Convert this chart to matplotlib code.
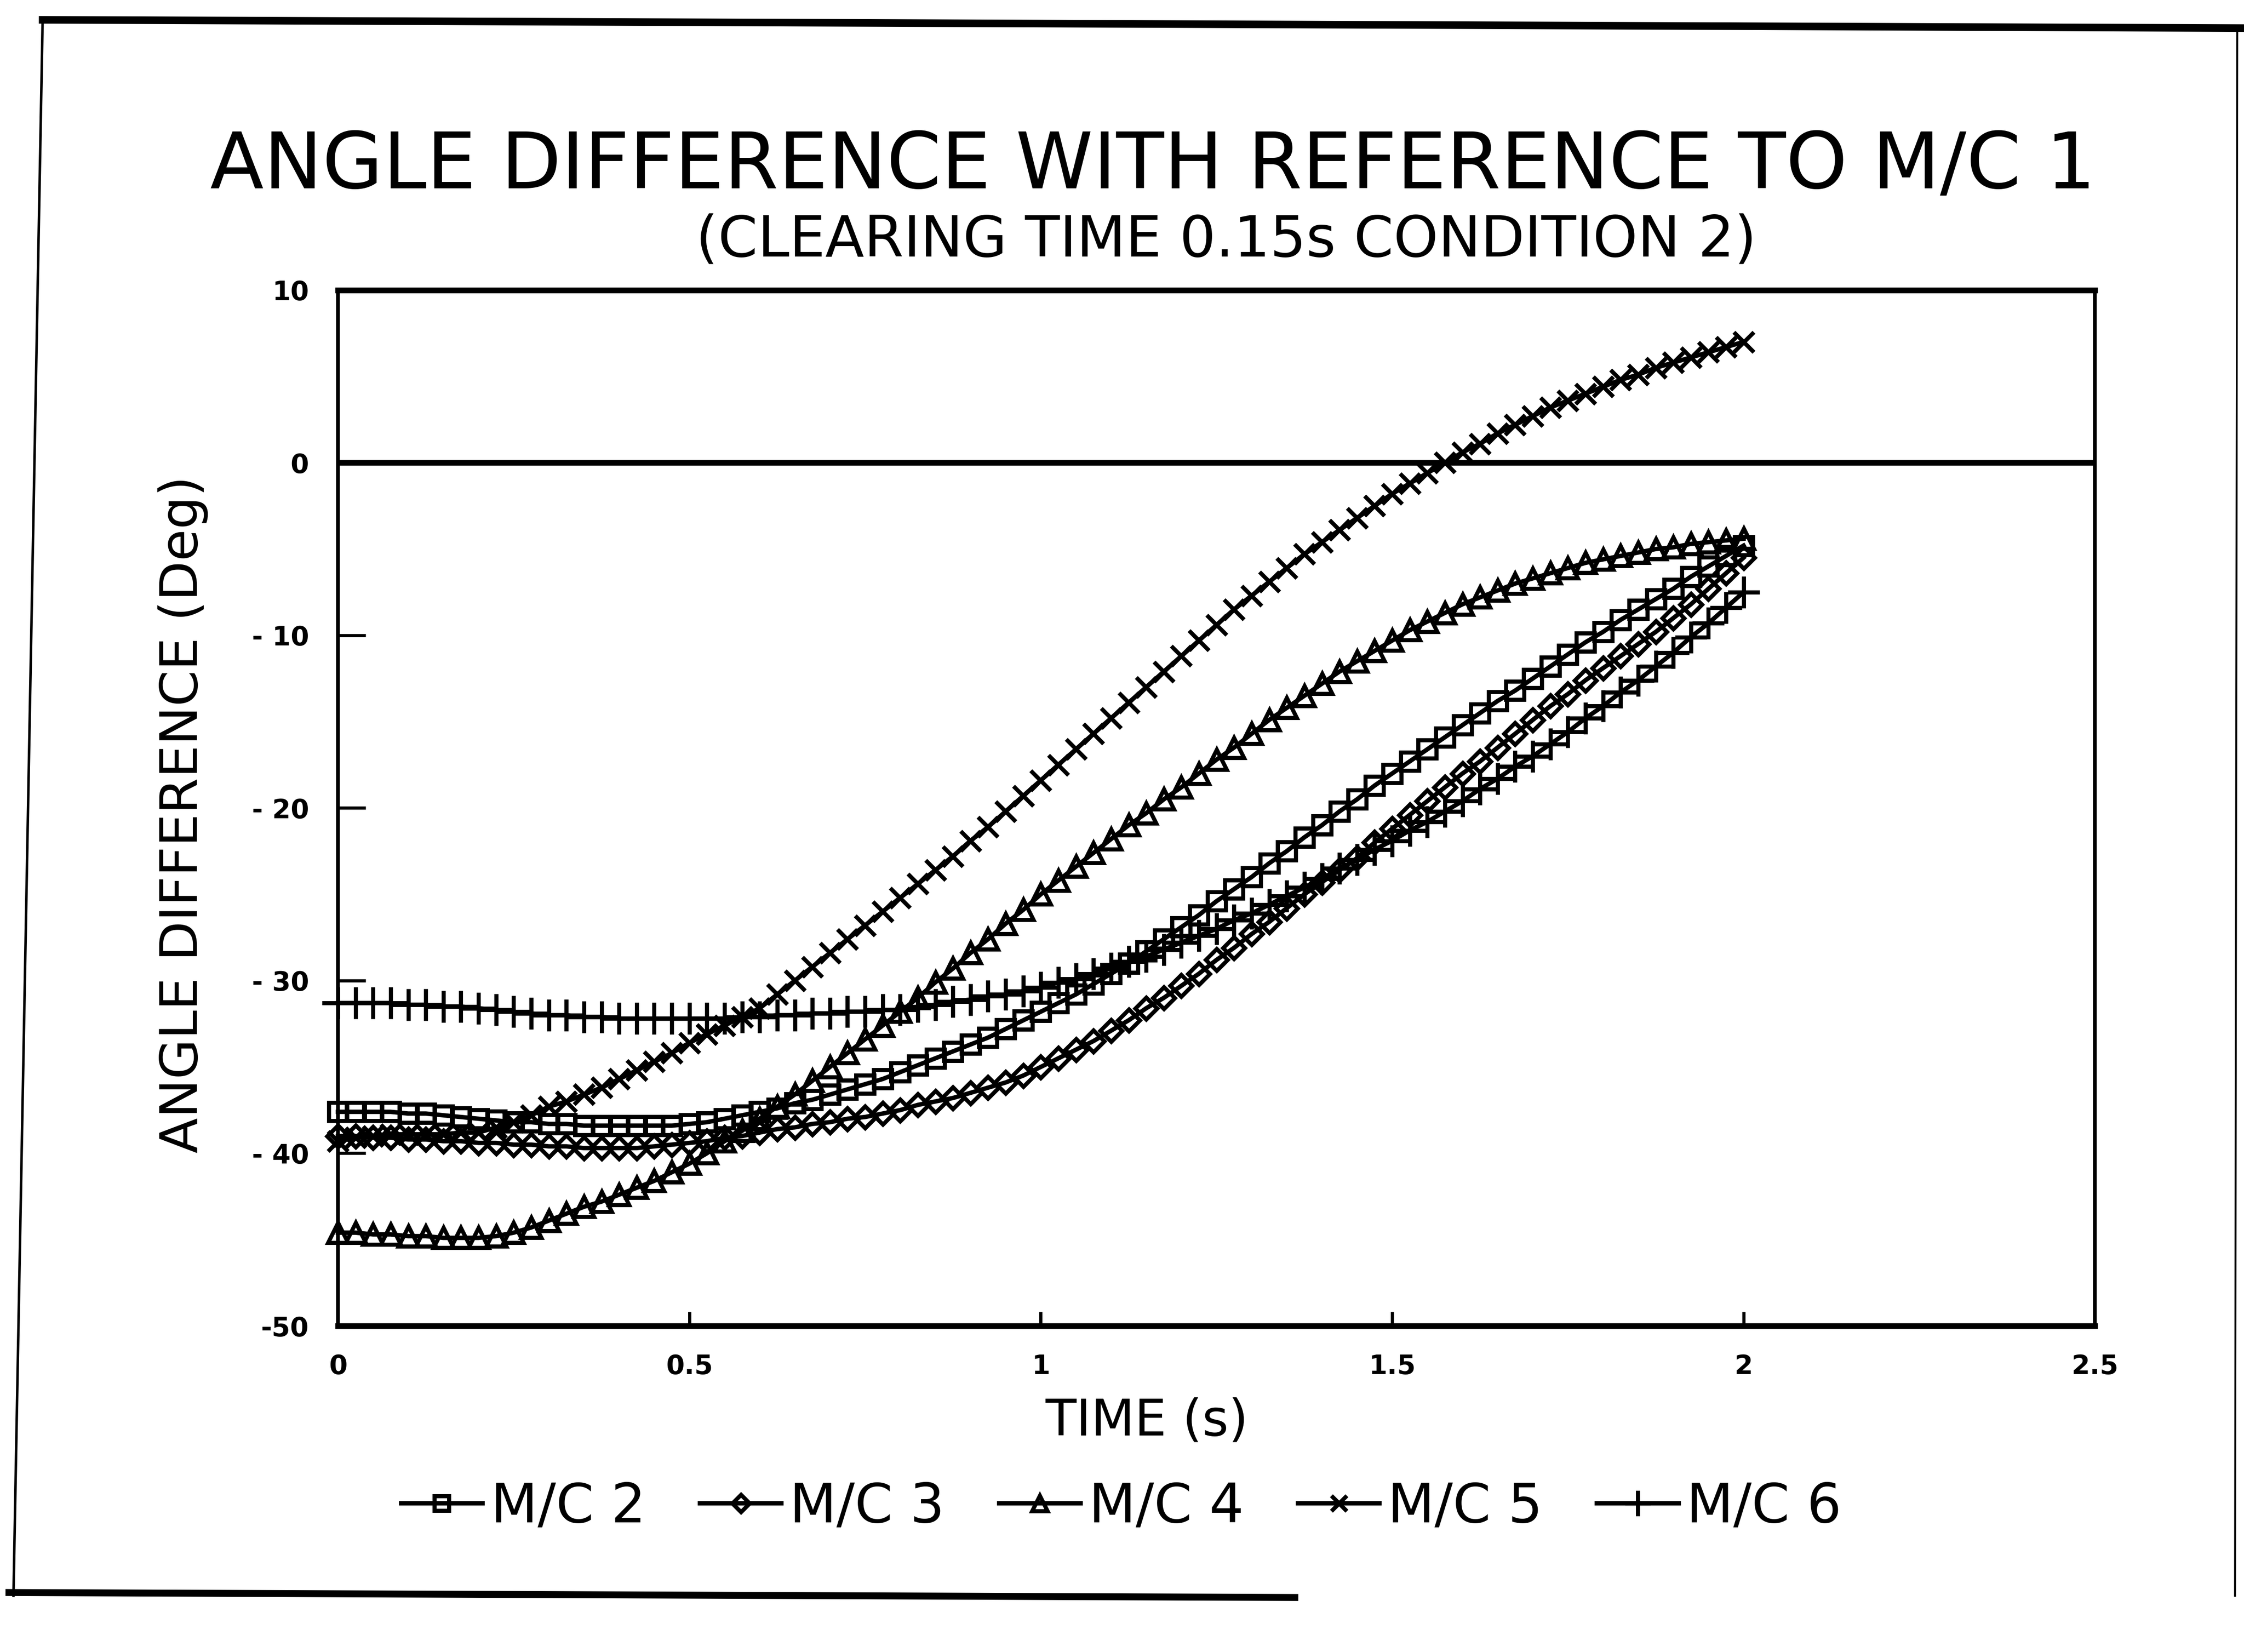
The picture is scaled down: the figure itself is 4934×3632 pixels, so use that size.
import numpy as np
import matplotlib
matplotlib.use("Agg")
import matplotlib.pyplot as plt
from matplotlib.lines import Line2D

# sampled every 0.025 s from t = 0 to t = 2.0 (81 points per machine)
dt = 0.025

mc2 = [-37.6, -37.6, -37.6, -37.6, -37.7, -37.7, -37.8, -37.9, -38.0, -38.1,
       -38.2, -38.2, -38.3, -38.3, -38.4, -38.4, -38.4, -38.4, -38.4, -38.4,
       -38.3, -38.2, -38.0, -37.8, -37.6, -37.4, -37.1, -36.9, -36.6, -36.3,
       -36.0, -35.7, -35.3, -34.9, -34.5, -34.1, -33.7, -33.3, -32.8, -32.3,
       -31.8, -31.3, -30.8, -30.2, -29.6, -29.0, -28.3, -27.6, -26.9, -26.2,
       -25.4, -24.7, -24.0, -23.2, -22.5, -21.7, -21.0, -20.2, -19.5, -18.7,
       -18.0, -17.3, -16.6, -15.9, -15.2, -14.5, -13.8, -13.2, -12.5, -11.8,
       -11.1, -10.4, -9.8, -9.1, -8.5, -7.9, -7.3, -6.6, -6.0, -5.4, -4.8]

mc3 = [-39.0, -39.0, -39.1, -39.1, -39.2, -39.2, -39.3, -39.3, -39.4, -39.4,
       -39.5, -39.5, -39.6, -39.6, -39.7, -39.7, -39.7, -39.7, -39.6, -39.5,
       -39.4, -39.3, -39.1, -39.0, -38.8, -38.6, -38.5, -38.3, -38.2, -38.0,
       -37.9, -37.7, -37.5, -37.2, -37.0, -36.8, -36.5, -36.2, -35.9, -35.5,
       -35.0, -34.5, -34.0, -33.5, -32.9, -32.3, -31.6, -31.0, -30.3, -29.6,
       -28.8, -28.1, -27.3, -26.6, -25.8, -25.0, -24.3, -23.6, -22.9, -22.0,
       -21.2, -20.4, -19.6, -18.8, -18.0, -17.3, -16.5, -15.7, -14.9, -14.1,
       -13.4, -12.6, -11.9, -11.2, -10.5, -9.8, -9.0, -8.2, -7.3, -6.4, -5.5]

mc4 = [-44.6, -44.6, -44.7, -44.7, -44.8, -44.8, -44.9, -44.9, -44.9, -44.8,
       -44.6, -44.3, -43.9, -43.5, -43.1, -42.8, -42.4, -42.0, -41.6, -41.1,
       -40.6, -40.0, -39.3, -38.7, -38.0, -37.3, -36.6, -35.8, -35.0, -34.2,
       -33.4, -32.6, -31.8, -31.0, -30.1, -29.3, -28.4, -27.6, -26.7, -25.9,
       -25.0, -24.2, -23.4, -22.6, -21.8, -21.0, -20.3, -19.5, -18.8, -18.0,
       -17.2, -16.5, -15.7, -14.9, -14.2, -13.5, -12.8, -12.1, -11.5, -10.9,
       -10.3, -9.7, -9.2, -8.7, -8.2, -7.8, -7.4, -7.0, -6.7, -6.4,
       -6.1, -5.8, -5.6, -5.4, -5.2, -5.0, -4.9, -4.7, -4.6, -4.5, -4.4]

mc5 = [-39.3, -39.1, -39.0, -38.9, -38.9, -38.9, -38.9, -38.8, -38.8, -38.5,
       -38.2, -37.8, -37.3, -37.0, -36.6, -36.2, -35.7, -35.2, -34.7, -34.2,
       -33.6, -33.1, -32.6, -32.1, -31.6, -30.8, -30.0, -29.2, -28.4, -27.6,
       -26.8, -26.0, -25.2, -24.4, -23.6, -22.8, -21.9, -21.1, -20.2, -19.3,
       -18.4, -17.5, -16.6, -15.7, -14.8, -13.9, -13.0, -12.1, -11.2, -10.3,
       -9.4, -8.5, -7.7, -6.9, -6.1, -5.3, -4.6, -3.9, -3.2, -2.5,
       -1.8, -1.2, -0.6, 0.0, 0.6, 1.1, 1.7, 2.2, 2.7, 3.2,
       3.6, 4.0, 4.4, 4.8, 5.1, 5.5, 5.8, 6.1, 6.4, 6.7, 7.0]

mc6 = [-31.3, -31.3, -31.3, -31.3, -31.4, -31.4, -31.5, -31.5, -31.6, -31.7,
       -31.8, -31.9, -32.0, -32.0, -32.1, -32.1, -32.2, -32.2, -32.2, -32.2,
       -32.2, -32.2, -32.2, -32.1, -32.1, -32.0, -32.0, -31.9, -31.9, -31.8,
       -31.8, -31.7, -31.7, -31.5, -31.4, -31.2, -31.1, -30.9, -30.8, -30.6,
       -30.4, -30.1, -29.9, -29.6, -29.3, -28.9, -28.6, -28.2, -27.8, -27.4,
       -27.0, -26.5, -26.1, -25.6, -25.1, -24.6, -24.1, -23.5, -23.0, -22.4,
       -21.9, -21.3, -20.8, -20.2, -19.6, -18.9, -18.3, -17.6, -17.0, -16.3,
       -15.6, -14.8, -14.1, -13.3, -12.6, -11.8, -11.0, -10.1, -9.3, -8.4, -7.5]

labels = ["M/C 2", "M/C 3", "M/C 4", "M/C 5", "M/C 6"]
markers = ["s", "D", "^", "x", "+"]
msizes = [29, 24, 31, 31, 50]

xticks = [0, 0.5, 1, 1.5, 2, 2.5]
xticklabels = ["0", "0.5", "1", "1.5", "2", "2.5"]
yticks = [-50, -40, -30, -20, -10, 0, 10]
yticklabels = ["-50", "- 40", "- 30", "- 20", "- 10", "0", "10"]

plt.rcParams["font.family"] = "DejaVu Sans"

fig = plt.figure(figsize=(49.34, 36.32), dpi=100)
ax = fig.add_axes([0.1506, 0.1974, 0.783, 0.627])

for vals, lab, mk, ms in zip([mc2, mc3, mc4, mc5, mc6], labels, markers, msizes):
    t = dt * np.arange(len(vals))
    ax.plot(t, vals, color="black", lw=7, marker=mk, ms=ms,
            mfc="none", mec="black", mew=6.5, label=lab, clip_on=False, zorder=3)

ax.axhline(0, color="black", lw=9, zorder=2)

ax.set_xlim(0, 2.5)
ax.set_ylim(-50, 10)
ax.set_xticks(xticks)
ax.set_xticklabels(xticklabels, fontsize=42, fontweight="bold")
ax.set_yticks(yticks)
ax.set_yticklabels(yticklabels, fontsize=42, fontweight="bold")
ax.tick_params(axis="y", direction="in", length=44, width=5, pad=46)
ax.tick_params(axis="x", direction="in", length=22, width=5, pad=44)

for side in ["left", "right"]:
    ax.spines[side].set_linewidth(6)
for side in ["top", "bottom"]:
    ax.spines[side].set_linewidth(9)

fig.text(0.5137, 0.899, "ANGLE DIFFERENCE WITH REFERENCE TO M/C 1",
         ha="center", va="center", fontsize=124)
fig.text(0.5465, 0.8544, "(CLEARING TIME 0.15s CONDITION 2)",
         ha="center", va="center", fontsize=90)
fig.text(0.511, 0.1395, "TIME (s)", ha="center", va="center", fontsize=80)
fig.text(0.0816, 0.507, "ANGLE DIFFERENCE (Deg)", ha="center", va="center",
         rotation=90, fontsize=82)

ax.legend(loc="center", bbox_to_anchor=(0.4997, 0.0875),
          bbox_transform=fig.transFigure, ncol=5, frameon=False,
          fontsize=86, handlelength=1.5, handletextpad=0.15,
          columnspacing=1.0, markerscale=0.8)

# outer page frame from the scan
fig.add_artist(Line2D([0.019, 1.0], [0.988, 0.983], color="black", lw=12,
                      transform=fig.transFigure))
fig.add_artist(Line2D([0.019, 0.006], [0.988, 0.034], color="black", lw=4,
                      transform=fig.transFigure))
fig.add_artist(Line2D([0.997, 0.996], [0.983, 0.034], color="black", lw=3,
                      transform=fig.transFigure))
fig.add_artist(Line2D([0.004, 0.577], [0.036, 0.033], color="black", lw=11,
                      transform=fig.transFigure))

fig.savefig("out.png", dpi=100, facecolor="white")
